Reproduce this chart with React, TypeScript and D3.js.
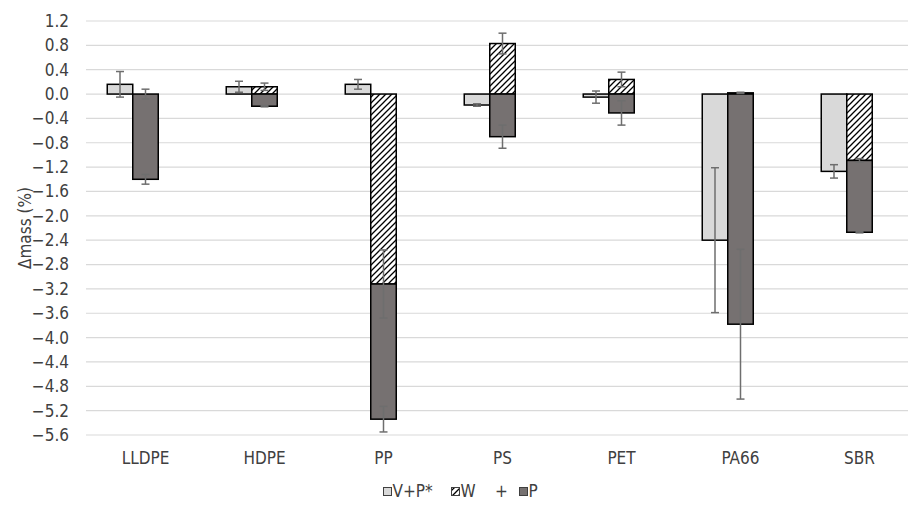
import React from 'react';
import * as d3 from 'd3';

const categories = ['LLDPE', 'HDPE', 'PP', 'PS', 'PET', 'PA66', 'SBR'];
const vpValues = [0.16, 0.12, 0.16, -0.18, -0.05, -2.4, -1.27];
const vpErrors = [0.21, 0.09, 0.08, 0.02, 0.1, 1.19, 0.11];
const wValues = [0.0, 0.12, -3.12, 0.83, 0.24, 0.02, -1.09];
const wErrors = [0.08, 0.06, 0.56, 0.17, 0.12, 0.01, 0.03];
const pValues = [-1.4, -0.2, -2.22, -0.7, -0.31, -3.78, -1.18];
const pErrors = [0.08, 0.01, 0.21, 0.19, 0.2, 1.23, 0.01];
const yTicks = [1.2, 0.8, 0.4, 0.0, -0.4, -0.8, -1.2, -1.6, -2.0, -2.4, -2.8, -3.2, -3.6, -4.0, -4.4, -4.8, -5.2, -5.6];
const legendLabels = ['V+P*', 'W', 'P'];
const legendJoiner = '+';
const yTitle = 'Δmass (%)';

const W = 908;
const H = 508;
const FONT = "'Liberation Sans Narrow', 'DejaVu Sans Condensed', Roboto, sans-serif";
const LIGHT = '#d9d9d9';
const DARK = '#767171';
const ERR = '#6e6e6e';

export default function App() {
  const x = d3.scaleBand<string>().domain(categories).range([86, 86 + 119 * 7]).padding(0);
  const y = d3.scaleLinear().domain([-5.6, 1.2]).range([435, 21]);
  const slot = 25.5;
  const fmt = d3.format('.1f');

  type Seg = { x0: number; v0: number; v1: number; fill: string; err: number; key: string };
  const segs: Seg[] = [];
  categories.forEach((c, i) => {
    const cx = (x(c) as number) + x.bandwidth() / 2;
    const left = cx - 1.5 * slot;
    const right = cx - 0.5 * slot;
    segs.push({ x0: left, v0: 0, v1: vpValues[i], fill: LIGHT, err: vpErrors[i], key: 'vp' + i });
    const w = wValues[i];
    segs.push({ x0: right, v0: 0, v1: w, fill: 'url(#hatch)', err: wErrors[i], key: 'w' + i });
    const p = pValues[i];
    const base = (p < 0 && w < 0) || (p > 0 && w > 0) ? w : 0;
    segs.push({ x0: right, v0: base, v1: base + p, fill: DARK, err: pErrors[i], key: 'p' + i });
  });

  const legendItems = [
    { fill: LIGHT, label: legendLabels[0], sx: 383.5, tx: 392.5 },
    { fill: 'url(#hatch)', label: legendLabels[1], sx: 451.5, tx: 460.5 },
    { fill: DARK, label: legendLabels[2], sx: 519.5, tx: 528.5 },
  ];

  return (
    <svg width={W} height={H} style={{ position: 'absolute', left: 0, top: 0, background: '#fff' }} fontFamily={FONT}>
      <defs>
        <pattern id="hatch" patternUnits="userSpaceOnUse" width="6" height="6">
          <rect width="6" height="6" fill="#fff" />
          <path d="M0,6 L6,0 M-1.5,1.5 L1.5,-1.5 M4.5,7.5 L7.5,4.5" stroke="#000" strokeWidth="1.3" />
        </pattern>
      </defs>
      <rect width={W} height={H} fill="#fff" />
      {yTicks.map((t) => (
        <g key={t}>
          <line x1={86} x2={W} y1={y(t)} y2={y(t)} stroke="#d9d9d9" strokeWidth={1.2} />
          <text x={69} y={y(t)} dy="0.35em" textAnchor="end" fontSize={17} fill="#404040">
            {fmt(t)}
          </text>
        </g>
      ))}
      {segs.map((s) =>
        s.v1 === s.v0 ? null : (
          <rect
            key={s.key}
            x={s.x0}
            width={slot}
            y={Math.min(y(s.v0), y(s.v1))}
            height={Math.abs(y(s.v1) - y(s.v0))}
            fill={s.fill}
            stroke="#000"
            strokeWidth={1.5}
          />
        )
      )}
      {segs.map((s) => {
        const cx = s.x0 + slot / 2;
        const top = y(s.v1 + s.err);
        const bot = y(s.v1 - s.err);
        return (
          <g key={'e' + s.key} stroke={ERR} strokeWidth={1.5}>
            <line x1={cx} x2={cx} y1={top} y2={bot} />
            <line x1={cx - 4} x2={cx + 4} y1={top} y2={top} />
            <line x1={cx - 4} x2={cx + 4} y1={bot} y2={bot} />
          </g>
        );
      })}
      {categories.map((c) => (
        <text key={c} x={(x(c) as number) + x.bandwidth() / 2} y={464} textAnchor="middle" fontSize={17} fill="#404040">
          {c}
        </text>
      ))}
      <text transform={`translate(31,228) rotate(-90)`} textAnchor="middle" fontSize={17} fill="#404040">
        {yTitle}
      </text>
      {legendItems.map((l) => (
        <g key={l.label}>
          <rect x={l.sx} y={487.5} width={8} height={8} fill={l.fill} stroke="#404040" strokeWidth={1} />
          <text x={l.tx} y={497} fontSize={17} fill="#404040">
            {l.label}
          </text>
        </g>
      ))}
      <text x={501.5} y={497} fontSize={17} fill="#404040" textAnchor="middle">
        {legendJoiner}
      </text>
    </svg>
  );
}
